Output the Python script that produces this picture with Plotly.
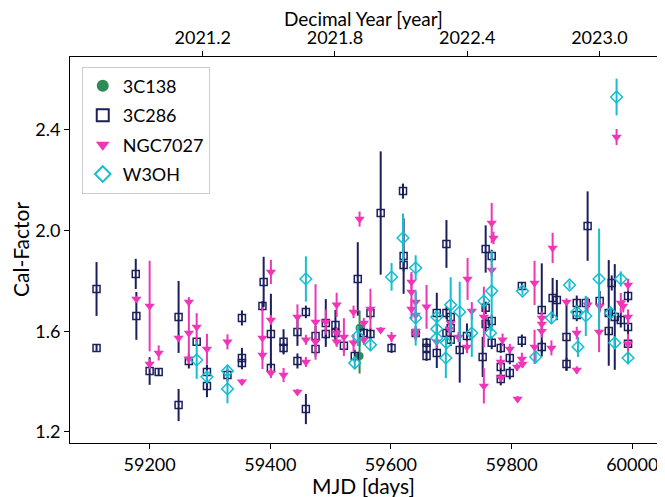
import numpy as np
import plotly.graph_objects as go

# ---------------- data ----------------
c138_mjd = [59548, 59548]
c138_val = [1.613, 1.502]
c138_err = [0.07, 0.07]

c286_mjd = [59112, 59112, 59177, 59178, 59200, 59215, 59248, 59248, 59265, 59278,
            59295, 59295, 59329, 59353, 59353, 59353, 59389, 59387, 59401, 59401,
            59422, 59422, 59445, 59445, 59459, 59459, 59475, 59475, 59492, 59492,
            59508, 59508, 59522, 59540, 59545, 59555, 59566, 59566, 59583, 59601,
            59620, 59621, 59621, 59641, 59659, 59659, 59659, 59676, 59676, 59692,
            59692, 59692, 59699, 59699, 59699, 59714, 59726, 59757, 59767, 59757,
            59757, 59767, 59767, 59752, 59782, 59782, 59782, 59797, 59797, 59817,
            59817, 59850, 59850, 59868, 59875, 59891, 59891, 59908, 59908, 59926,
            59923, 59946, 59961, 59961, 59966, 59971, 59981, 59993, 59993, 59993]
c286_val = [1.768, 1.534, 1.828, 1.661, 1.442, 1.438, 1.657, 1.307, 1.482, 1.558,
            1.438, 1.383, 1.426, 1.653, 1.494, 1.474, 1.796, 1.700, 1.589, 1.454,
            1.558, 1.534, 1.597, 1.482, 1.677, 1.291, 1.581, 1.530, 1.633, 1.589,
            1.625, 1.593, 1.542, 1.502, 1.808, 1.593, 1.673, 1.589, 2.070, 1.534,
            2.157, 1.899, 1.863, 1.593, 1.554, 1.534, 1.502, 1.673, 1.514, 1.947,
            1.673, 1.593, 1.657, 1.613, 1.566, 1.526, 1.581, 1.927, 1.899, 1.693,
            1.629, 1.641, 1.554, 1.498, 1.534, 1.458, 1.410, 1.494, 1.434, 1.780,
            1.562, 1.685, 1.538, 1.732, 1.724, 1.577, 1.470, 1.712, 1.665, 2.018,
            1.712, 1.720, 1.673, 1.601, 1.792, 1.657, 1.645, 1.740, 1.617, 1.550]
c286_err = [0.107, 0.012, 0.060, 0.095, 0.055, 0.012, 0.143, 0.064, 0.030, 0.015,
            0.030, 0.045, 0.025, 0.030, 0.040, 0.025, 0.100, 0.020, 0.160, 0.025,
            0.050, 0.020, 0.055, 0.030, 0.025, 0.060, 0.040, 0.030, 0.095, 0.020,
            0.060, 0.025, 0.025, 0.025, 0.146, 0.030, 0.025, 0.025, 0.245, 0.020,
            0.030, 0.150, 0.025, 0.025, 0.020, 0.020, 0.020, 0.080, 0.060, 0.095,
            0.025, 0.025, 0.020, 0.025, 0.025, 0.130, 0.050, 0.094, 0.025, 0.025,
            0.030, 0.025, 0.025, 0.080, 0.020, 0.025, 0.025, 0.025, 0.025, 0.015,
            0.025, 0.185, 0.025, 0.080, 0.080, 0.135, 0.025, 0.030, 0.025, 0.138,
            0.025, 0.040, 0.210, 0.010, 0.030, 0.210, 0.030, 0.025, 0.030, 0.025]

ngc_mjd = [59178, 59200, 59200, 59215, 59248, 59265, 59265, 59265, 59278, 59295,
           59329, 59353, 59401, 59387, 59387, 59401, 59401, 59422, 59445, 59445,
           59459, 59459, 59475, 59475, 59492, 59510, 59510, 59510, 59522, 59538,
           59538, 59548, 59555, 59555, 59566, 59583, 59601, 59634, 59634, 59634,
           59641, 59641, 59641, 59641, 59659, 59676, 59699, 59697, 59712, 59727,
           59726, 59734, 59754, 59754, 59767, 59770, 59767, 59785, 59782, 59782,
           59797, 59809, 59810, 59817, 59818, 59838, 59838, 59850, 59850, 59850,
           59866, 59868, 59891, 59908, 59908, 59926, 59945, 59946, 59974, 59981,
           59993, 59993, 59993, 59985]
ngc_val = [1.728, 1.700, 1.470, 1.514, 1.573, 1.716, 1.593, 1.490, 1.617, 1.530,
           1.558, 1.399, 1.836, 1.573, 1.506, 1.645, 1.434, 1.426, 1.657, 1.359,
           1.566, 1.478, 1.637, 1.558, 1.637, 1.705, 1.593, 1.558, 1.577, 1.677,
           1.554, 2.046, 1.633, 1.566, 1.689, 1.605, 1.577, 1.796, 1.756, 1.689,
           1.716, 1.665, 1.600, 1.585, 1.697, 1.558, 1.633, 1.609, 1.577, 1.808,
           1.538, 1.681, 1.657, 1.383, 2.030, 1.971, 1.844, 1.566, 1.478, 1.415,
           1.530, 1.458, 1.331, 1.490, 1.470, 1.792, 1.538, 1.653, 1.629, 1.600,
           1.534, 1.931, 1.716, 1.593, 1.446, 1.705, 1.597, 1.700, 2.372, 1.712,
           1.784, 1.657, 1.550, 1.700]
ngc_err = [0.012, 0.180, 0.020, 0.030, 0.012, 0.020, 0.120, 0.020, 0.055, 0.060,
           0.030, 0.012, 0.048, 0.123, 0.020, 0.020, 0.020, 0.028, 0.050, 0.012,
           0.020, 0.020, 0.150, 0.020, 0.050, 0.048, 0.020, 0.020, 0.075, 0.025,
           0.035, 0.030, 0.020, 0.020, 0.080, 0.012, 0.020, 0.030, 0.080, 0.040,
           0.040, 0.030, 0.020, 0.020, 0.087, 0.025, 0.030, 0.025, 0.020, 0.083,
           0.025, 0.035, 0.120, 0.070, 0.080, 0.025, 0.025, 0.025, 0.025, 0.015,
           0.020, 0.015, 0.012, 0.025, 0.015, 0.088, 0.068, 0.025, 0.025, 0.025,
           0.030, 0.060, 0.015, 0.025, 0.015, 0.030, 0.080, 0.025, 0.032, 0.040,
           0.025, 0.030, 0.040, 0.025]

w3oh_mjd = [59278, 59295, 59329, 59329, 59459, 59540, 59545, 59566, 59601, 59620,
            59641, 59641, 59676, 59676, 59676, 59699, 59692, 59691, 59714, 59734,
            59754, 59767, 59765, 59818, 59840, 59866, 59896, 59908, 59910, 59923,
            59945, 59964, 59971, 59974, 59981, 59993]
w3oh_val = [1.486, 1.419, 1.442, 1.371, 1.808, 1.474, 1.581, 1.546, 1.816, 1.971,
            1.852, 1.653, 1.657, 1.609, 1.573, 1.705, 1.554, 1.494, 1.677, 1.593,
            1.720, 1.760, 1.593, 1.760, 1.498, 1.653, 1.784, 1.677, 1.538, 1.661,
            1.808, 1.673, 1.554, 2.531, 1.808, 1.494]
w3oh_err = [0.075, 0.025, 0.025, 0.057, 0.090, 0.025, 0.040, 0.025, 0.055, 0.097,
            0.050, 0.110, 0.025, 0.025, 0.025, 0.110, 0.025, 0.080, 0.120, 0.095,
            0.030, 0.160, 0.025, 0.015, 0.025, 0.025, 0.015, 0.015, 0.040, 0.080,
            0.200, 0.025, 0.025, 0.073, 0.030, 0.025]

year_ticks = [2021.2, 2021.8, 2022.4, 2023.0]
year_labels = ["2021.2", "2021.8", "2022.4", "2023.0"]
MJD_2021 = 59215.0  # MJD of 2021.0
mjd_ticks = [59200, 59400, 59600, 59800, 60000]
val_ticks = [1.2, 1.6, 2.0, 2.4]

X_RANGE = [59068, 60041]
Y_RANGE = [1.156, 2.69]

FONT = "Lato"
C_GREEN = "#2e8b57"
C_NAVY = "#1b1f5c"
C_PINK = "#ee36b7"
C_CYAN = "#17becf"

fig = go.Figure()


def add_series(name, x, y, e, color, symbol, size, lw=1.5):
    fig.add_trace(go.Scatter(
        x=x, y=y, mode="markers", name=name, legendgroup=name,
        error_y=dict(type="data", array=e, visible=True, color=color,
                     thickness=2, width=0),
        marker=dict(symbol=symbol, size=size, color=color,
                    line=dict(color=color, width=lw)),
    ))


add_series("3C138", c138_mjd, c138_val, c138_err, C_GREEN, "circle", 8, 0)
add_series("3C286", c286_mjd, c286_val, c286_err, C_NAVY, "square-open", 7)
add_series("NGC7027", ngc_mjd, ngc_val, ngc_err, C_PINK, "triangle-down", 9, 0)
add_series("W3OH", w3oh_mjd, w3oh_val, w3oh_err, C_CYAN, "diamond-open", 9)

# invisible trace to bind the top axis
top_tick_mjd = [MJD_2021 + (yr - 2021.0) * 365.25 for yr in year_ticks]
fig.add_trace(go.Scatter(x=top_tick_mjd, y=[None] * len(top_tick_mjd),
                         xaxis="x2", mode="markers", showlegend=False,
                         hoverinfo="skip", marker=dict(opacity=0)))

axis_common = dict(showgrid=False, zeroline=False, showline=True,
                   linecolor="black", linewidth=1, ticks="outside",
                   ticklen=5, tickwidth=1, tickcolor="black", automargin=False,
                   tickfont=dict(family=FONT, size=18, color="black"))

TITLE_FONT = dict(family=FONT, size=21, color="black")

# page body has an 8px margin: figure is sized/offset to compensate
fig.update_layout(
    width=657, height=489,
    margin=dict(l=62, r=8, t=49, b=54, autoexpand=False),
    paper_bgcolor="white", plot_bgcolor="white",
    font=dict(family=FONT, color="black"),
    xaxis=dict(range=X_RANGE, tickvals=mjd_ticks,
               ticktext=[str(v) for v in mjd_ticks], mirror=False,
               **axis_common),
    xaxis2=dict(range=X_RANGE, overlaying="x", side="top", anchor="y",
                tickvals=top_tick_mjd, ticktext=year_labels,
                **axis_common),
    yaxis=dict(range=Y_RANGE, tickvals=val_ticks,
               ticktext=[f"{v:.1f}" for v in val_ticks], mirror=True,
               **axis_common),
    legend=dict(x=0.02, y=0.975, xanchor="left", yanchor="top",
                bgcolor="white", bordercolor="#cccccc", borderwidth=1,
                font=dict(family=FONT, size=18, color="black"),
                itemsizing="constant", tracegroupgap=3),
    showlegend=True,
    annotations=[
        dict(text="MJD [days]", xref="paper", yref="paper", x=0.5, y=0,
             yshift=-42, xanchor="center", yanchor="middle", showarrow=False,
             font=TITLE_FONT),
        dict(text="Decimal Year [year]", xref="paper", yref="paper", x=0.5,
             y=1, yshift=39, xanchor="center", yanchor="middle",
             showarrow=False, font=dict(family=FONT, size=19, color="black")),
        dict(text="Cal-Factor", xref="paper", yref="paper", x=0, xshift=-50,
             y=0.5, xanchor="center", yanchor="middle", textangle=-90,
             showarrow=False, font=TITLE_FONT),
    ],
)

fig.write_html("out.html")
